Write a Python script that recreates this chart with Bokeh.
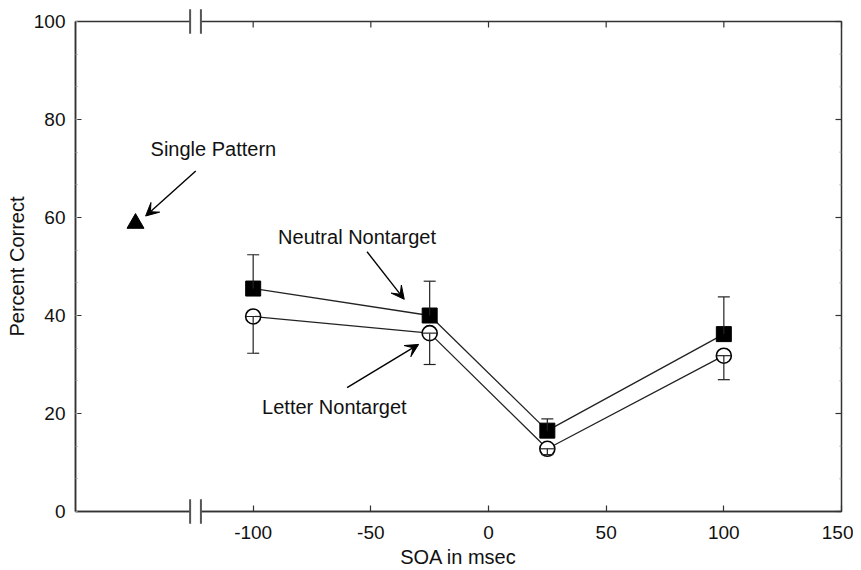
import math
from bokeh.plotting import figure
from bokeh.models import (Range1d, FixedTicker, SingleIntervalTicker, Whisker,
                          TeeHead, ColumnDataSource, Label, Arrow, VeeHead)
from bokeh.embed import file_html
from bokeh.resources import INLINE

# ---- data ----
soa = [-100, -25, 25, 100]
neutral = [45.5, 40.0, 16.5, 36.2]
neutral_upper = [52.4, 47.0, 18.9, 43.8]
letter = [39.8, 36.4, 12.8, 31.8]
letter_lower = [32.3, 30.0, 11.6, 26.9]
single_soa = [-150]
single_pct = [58.8]
x_ticks = [-100, -50, 0, 50, 100, 150]
x_tick_labels = ["-100", "-50", "0", "50", "100", "150"]
y_ticks = [0, 20, 40, 60, 80, 100]
axis_break = -124.5

FONT = "Liberation Sans"
INK = "#222222"
AX = "#333333"

X0, X1 = -175.5, 150
Y0, Y1 = 0, 100

p = figure(width=853, height=570, output_backend="svg", toolbar_location=None,
           x_range=Range1d(X0, X1), y_range=Range1d(Y0, Y1),
           min_border_left=75, min_border_right=12, min_border_top=21,
           min_border_bottom=59, background_fill_color="white",
           border_fill_color="white")
p.grid.visible = False
p.outline_line_color = AX
p.outline_line_width = 1.5


def style_axis(ax):
    ax.axis_line_color = AX
    ax.axis_line_width = 1.5
    ax.major_tick_in = 6
    ax.major_tick_out = 0
    ax.major_tick_line_color = AX
    ax.major_tick_line_width = 1.2
    ax.minor_tick_in = 2
    ax.minor_tick_out = 0
    ax.minor_tick_line_color = "#999999"
    ax.minor_tick_line_width = 1
    ax.major_label_text_font = FONT
    ax.major_label_text_color = "#111111"
    ax.axis_label_text_font = FONT
    ax.axis_label_text_font_style = "normal"
    ax.axis_label_text_color = "#111111"


xa = p.xaxis[0]
xa.ticker = FixedTicker(ticks=x_ticks)
style_axis(xa)
xa.major_label_overrides = dict(zip(x_ticks, x_tick_labels))
xa.major_label_text_font_size = "19px"
xa.major_label_standoff = 14
xa.axis_label = "SOA in msec"
xa.axis_label_text_font_size = "20px"
xa.axis_label_standoff = 4

ya = p.yaxis[0]
ya.ticker = SingleIntervalTicker(interval=20, num_minor_ticks=3)
style_axis(ya)
ya.major_label_text_font_size = "19px"
ya.major_label_standoff = 10
ya.axis_label = "Percent Correct"
ya.axis_label_text_font_size = "20px"
ya.axis_label_standoff = 3

# ---- inward ticks on the top and right frame edges ----
p.ray(x=x_ticks, y=[Y1] * len(x_ticks), length=6, length_units="screen",
      angle=-math.pi / 2, line_color=AX, line_width=1.2, level="overlay")
p.ray(x=[X1] * len(y_ticks), y=y_ticks, length=6, length_units="screen",
      angle=math.pi, line_color=AX, line_width=1.2, level="overlay")
minor_y = [t + k * 20 / 3 for t in y_ticks[:-1] for k in (1, 2)]
p.ray(x=[X1] * len(minor_y), y=minor_y, length=2, length_units="screen",
      angle=math.pi, line_color="#999999", line_width=1, level="overlay")

# ---- axis breaks (top and bottom) ----
gap = 2.3
p.quad(left=[axis_break - gap] * 2, right=[axis_break + gap] * 2,
       bottom=[Y0 - 0.8, Y1 - 0.8], top=[Y0 + 0.8, Y1 + 0.8], fill_color="white",
       line_color=None, level="overlay")
p.segment(x0=[axis_break - gap, axis_break + gap] * 2,
          x1=[axis_break - gap, axis_break + gap] * 2,
          y0=[Y0 - 2.5, Y0 - 2.5, Y1 - 2.5, Y1 - 2.5],
          y1=[Y0 + 2.5, Y0 + 2.5, Y1 + 2.5, Y1 + 2.5],
          line_color="#555555", line_width=2, level="overlay")

# ---- series ----
src_n = ColumnDataSource(dict(x=soa, y=neutral, up=neutral_upper))
src_l = ColumnDataSource(dict(x=soa, y=letter, lo=letter_lower))

p.line("x", "y", source=src_n, line_color=INK, line_width=1.3)
p.line("x", "y", source=src_l, line_color=INK, line_width=1.3)

p.add_layout(Whisker(source=src_n, base="x", lower="y", upper="up",
                     dimension="height", lower_head=None,
                     upper_head=TeeHead(size=12, line_color=INK, line_width=1.2),
                     line_color=INK, line_width=1.2, level="overlay"))

p.scatter("x", "y", source=src_n, marker="square", size=15,
          fill_color="black", line_color="black")
p.scatter("x", "y", source=src_l, marker="circle", size=15,
          fill_color="white", line_color="black", line_width=1.6)
p.scatter("x", "y", source=src_l, marker="dash", size=15,
          line_color=INK, line_width=1.2)

p.add_layout(Whisker(source=src_l, base="x", lower="lo", upper="y",
                     dimension="height", upper_head=None,
                     lower_head=TeeHead(size=12, line_color=INK, line_width=1.2),
                     line_color=INK, line_width=1.2, level="overlay"))

p.scatter(single_soa, single_pct, marker="triangle", size=17,
          fill_color="black", line_color="black")

# ---- annotations ----
for txt, x, y in [("Single Pattern", -143.6, 73.9),
                  ("Neutral Nontarget", -89.4, 56.0),
                  ("Letter Nontarget", -96.2, 21.3)]:
    p.add_layout(Label(x=x, y=y, text=txt, text_font=FONT, text_font_size="20px",
                       text_baseline="middle", text_align="left",
                       text_color="#111111"))

for xs, ys, xe, ye in [(-124.4, 69.5, -145.7, 60.3),
                       (-51.6, 53.0, -35.8, 43.3),
                       (-60.1, 25.3, -29.7, 34.1)]:
    p.add_layout(Arrow(end=VeeHead(size=13, fill_color="black", line_color="black",
                                   line_width=1),
                       x_start=xs, y_start=ys, x_end=xe, y_end=ye,
                       line_color="black", line_width=1.4))

open("out.html", "w").write(file_html(p, INLINE))
